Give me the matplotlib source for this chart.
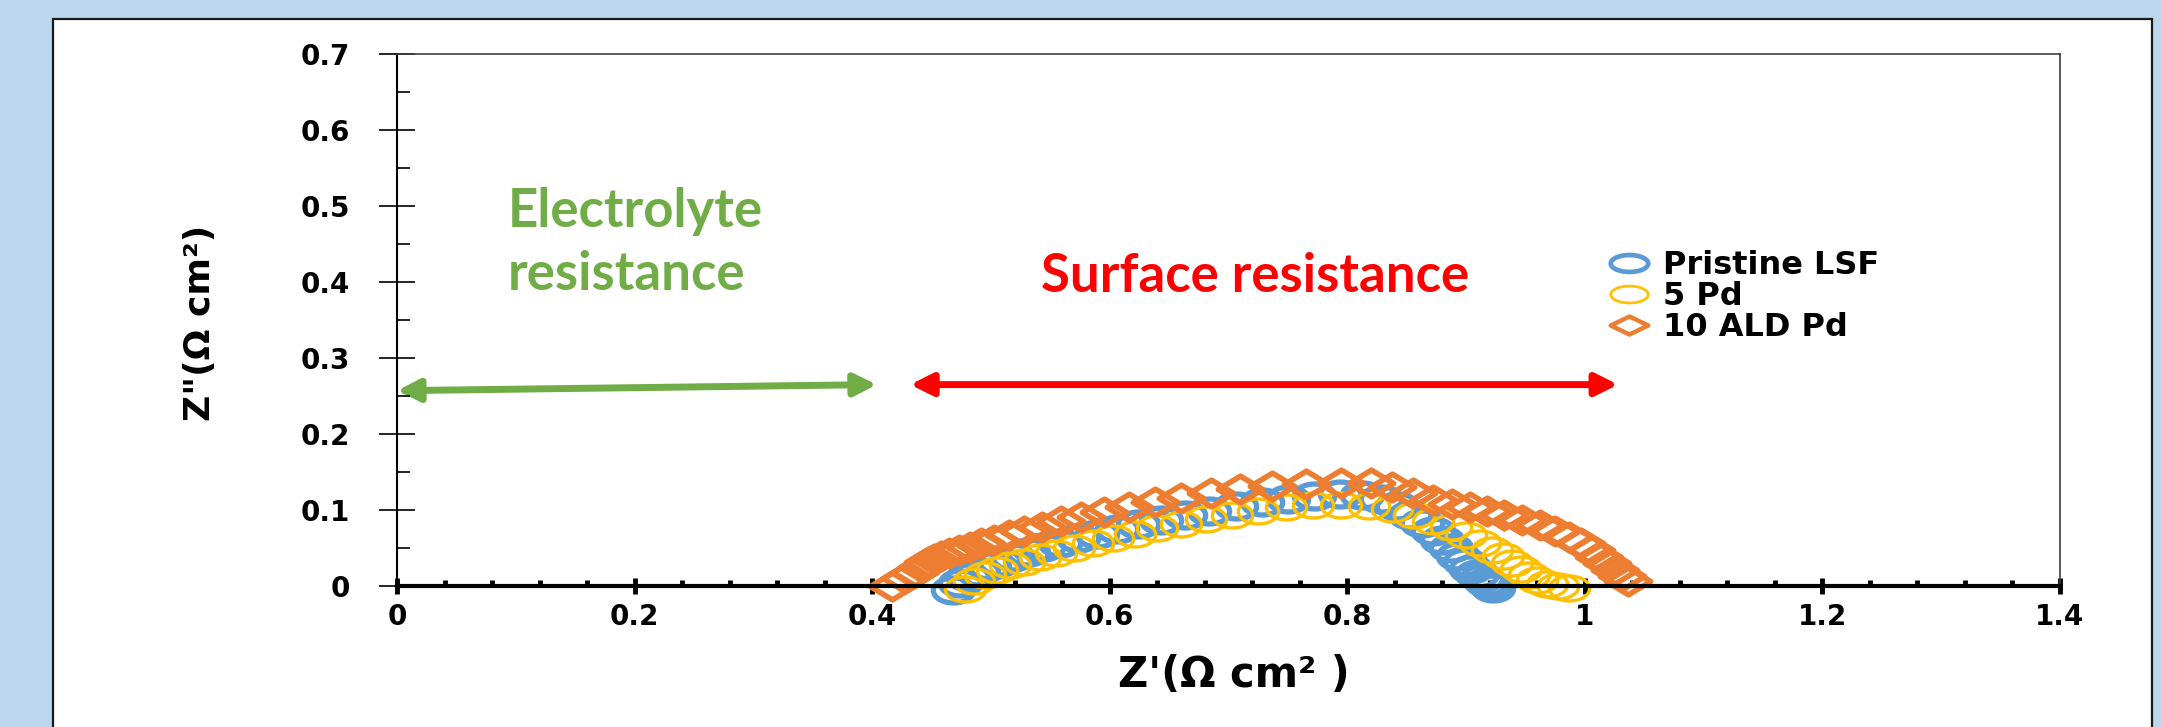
import numpy as np
import matplotlib.pyplot as plt
from matplotlib.path import Path
from matplotlib.patches import Rectangle, FancyArrowPatch
from matplotlib.lines import Line2D
from matplotlib.ticker import FixedLocator, MultipleLocator

# Nyquist data, Z' and Z" in ohm cm2
pristine_x = [0.468, 0.474, 0.481, 0.489, 0.498, 0.508, 0.519, 0.531, 0.544, 0.558,
              0.573, 0.589, 0.606, 0.624, 0.643, 0.663, 0.684, 0.706, 0.728, 0.750,
              0.772, 0.794, 0.812, 0.828, 0.842, 0.853, 0.863, 0.872, 0.880, 0.887,
              0.893, 0.899, 0.904, 0.909, 0.913, 0.917, 0.920, 0.923]
pristine_y = [-0.005, 0.004, 0.012, 0.019, 0.026, 0.032, 0.038, 0.045, 0.051, 0.057,
              0.063, 0.069, 0.075, 0.081, 0.087, 0.093, 0.099, 0.105, 0.110, 0.115,
              0.119, 0.121, 0.120, 0.115, 0.105, 0.094, 0.083, 0.072, 0.061, 0.050,
              0.040, 0.031, 0.023, 0.016, 0.010, 0.005, 0.001, -0.002]

pd5_x = [0.478, 0.486, 0.495, 0.505, 0.516, 0.528, 0.541, 0.555, 0.570, 0.586,
         0.603, 0.621, 0.640, 0.660, 0.681, 0.703, 0.725, 0.748, 0.771, 0.795,
         0.818, 0.838, 0.856, 0.872, 0.887, 0.900, 0.912, 0.922, 0.931, 0.939,
         0.946, 0.953, 0.960, 0.968, 0.977, 0.987]
pd5_y = [-0.004, 0.006, 0.014, 0.021, 0.027, 0.032, 0.038, 0.044, 0.050, 0.057,
         0.063, 0.069, 0.076, 0.082, 0.088, 0.094, 0.099, 0.104, 0.107, 0.107,
         0.105, 0.101, 0.094, 0.086, 0.077, 0.067, 0.057, 0.048, 0.039, 0.030,
         0.022, 0.015, 0.008, 0.003, 0.000, -0.002]

ald10_x = [0.417, 0.428, 0.436, 0.442, 0.447, 0.452, 0.458, 0.465, 0.473, 0.482,
           0.492, 0.503, 0.515, 0.528, 0.543, 0.559, 0.576, 0.595, 0.616, 0.638,
           0.660, 0.685, 0.710, 0.737, 0.765, 0.795, 0.820, 0.838, 0.855, 0.872,
           0.888, 0.903, 0.918, 0.932, 0.947, 0.962, 0.975, 0.987, 0.997, 1.005,
           1.012, 1.019, 1.025, 1.031, 1.036]
ald10_y = [0.000, 0.010, 0.018, 0.025, 0.031, 0.035, 0.039, 0.043, 0.047, 0.051,
           0.056, 0.061, 0.067, 0.072, 0.078, 0.085, 0.091, 0.098, 0.104, 0.111,
           0.116, 0.122, 0.127, 0.131, 0.134, 0.136, 0.135, 0.130, 0.122, 0.113,
           0.108, 0.104, 0.099, 0.093, 0.087, 0.080, 0.073, 0.065, 0.056, 0.047,
           0.038, 0.030, 0.021, 0.013, 0.006]

series_labels = ['Pristine LSF', '5 Pd', '10 ALD Pd']
series_colors = ['#5B9BD5', '#FFC000', '#ED7D31']

x_ticks = [0, 0.2, 0.4, 0.6, 0.8, 1.0, 1.2, 1.4]
x_ticklabels = ['0', '0.2', '0.4', '0.6', '0.8', '1', '1.2', '1.4']
y_ticks = [0, 0.1, 0.2, 0.3, 0.4, 0.5, 0.6, 0.7]
y_ticklabels = ['0', '0.1', '0.2', '0.3', '0.4', '0.5', '0.6', '0.7']

# arrow ends (x0, y0, x1, y1) in data units
electrolyte_arrow = (0.0, 0.257, 0.404, 0.265)
surface_arrow = (0.432, 0.265, 1.028, 0.265)

# the original chart was stretched sideways, so markers are squashed shapes
def ellipse_path(aspect):
    t = np.linspace(0, 2 * np.pi, 64)
    return Path(np.column_stack([np.cos(t), aspect * np.sin(t)]), closed=True)

def diamond_path(aspect):
    return Path([(-1, 0), (0, aspect), (1, 0), (0, -aspect), (-1, 0)], closed=True)

fig = plt.figure(figsize=(21.61, 7.27), dpi=100, facecolor='#BDD7EE')
W, H = 2161, 727

# white slide panel
fig.add_artist(Rectangle((53 / W, -0.05), (2152 - 53) / W, (727 - 19) / H + 0.05,
                         transform=fig.transFigure, facecolor='white',
                         edgecolor='#1a1a1a', lw=1.6, zorder=0))

ax = fig.add_axes([397 / W, (727 - 586) / H, (2060 - 397) / W, (586 - 54) / H])
ax.set_facecolor('white')

ax.plot(pristine_x, pristine_y, ls='none', marker=ellipse_path(0.62), ms=29,
        mfc='none', mec=series_colors[0], mew=3.8, clip_on=False)
ax.plot(pd5_x, pd5_y, ls='none', marker=ellipse_path(0.62), ms=29,
        mfc='none', mec=series_colors[1], mew=2.4, clip_on=False)
ax.plot(ald10_x, ald10_y, ls='none', marker=diamond_path(0.6), ms=32,
        mfc='none', mec=series_colors[2], mew=4, clip_on=False)

ax.set_xlim(0, 1.4)
ax.set_ylim(0, 0.7)
ax.xaxis.set_major_locator(FixedLocator(x_ticks))
ax.set_xticklabels(x_ticklabels)
ax.xaxis.set_minor_locator(MultipleLocator(0.04))
ax.yaxis.set_major_locator(FixedLocator(y_ticks))
ax.set_yticklabels(y_ticklabels)
ax.yaxis.set_minor_locator(MultipleLocator(0.05))

ax.spines['left'].set_linewidth(1.5)
ax.spines['bottom'].set_linewidth(3)
for s in ['top', 'right']:
    ax.spines[s].set_linewidth(1.2)
    ax.spines[s].set_color('#404040')

ax.tick_params(axis='x', which='major', direction='inout', length=11, width=3.5,
               pad=7, labelsize=20)
ax.tick_params(axis='x', which='minor', direction='in', length=4.5, width=3.5)
ax.tick_params(axis='y', which='major', direction='inout', length=26, width=1.2,
               pad=21, labelsize=20)
ax.tick_params(axis='y', which='minor', direction='in', length=9, width=1.2)
for lbl in ax.get_xticklabels() + ax.get_yticklabels():
    lbl.set_fontweight('bold')

ax.set_xlabel("Z'(Ω cm² )", fontsize=30, fontweight='bold')
ax.xaxis.set_label_coords(0.503, -0.128)
ax.set_ylabel('Z"(Ω cm²)', fontsize=26, fontweight='bold')
ax.yaxis.set_label_coords(-0.108, 0.494)

# annotations (baseline of the last line for the two-line label)
ax.text(0.093, 0.389, 'Electrolyte\nresistance', color='#70AD47', fontsize=38,
        fontweight='bold', family='Lato', ha='left', va='baseline', linespacing=1.35)
ax.text(0.5425, 0.387, 'Surface resistance', color='#FF0000', fontsize=38,
        fontweight='bold', family='Lato', ha='left', va='baseline')

for (x0, y0, x1, y1), c in [(electrolyte_arrow, '#70AD47'), (surface_arrow, '#FF0000')]:
    ax.add_patch(FancyArrowPatch((x0, y0), (x1, y1),
                                 arrowstyle='<|-|>,head_length=0.6,head_width=0.3',
                                 mutation_scale=22, lw=5, color=c,
                                 shrinkA=0, shrinkB=0, clip_on=False))

handles = [
    Line2D([], [], ls='none', marker=ellipse_path(0.45), ms=27, mfc='none',
           mec=series_colors[0], mew=3.4),
    Line2D([], [], ls='none', marker=ellipse_path(0.45), ms=27, mfc='none',
           mec=series_colors[1], mew=2),
    Line2D([], [], ls='none', marker=diamond_path(0.48), ms=27, mfc='none',
           mec=series_colors[2], mew=3.2),
]
ax.legend(handles, series_labels, loc='upper left', bbox_to_anchor=(0.72, 0.662),
          frameon=False, borderpad=0, handlelength=1.2, handletextpad=0.45,
          labelspacing=0.0, prop={'weight': 'bold', 'size': 23})

fig.savefig('out.png', dpi=100, facecolor=fig.get_facecolor())
